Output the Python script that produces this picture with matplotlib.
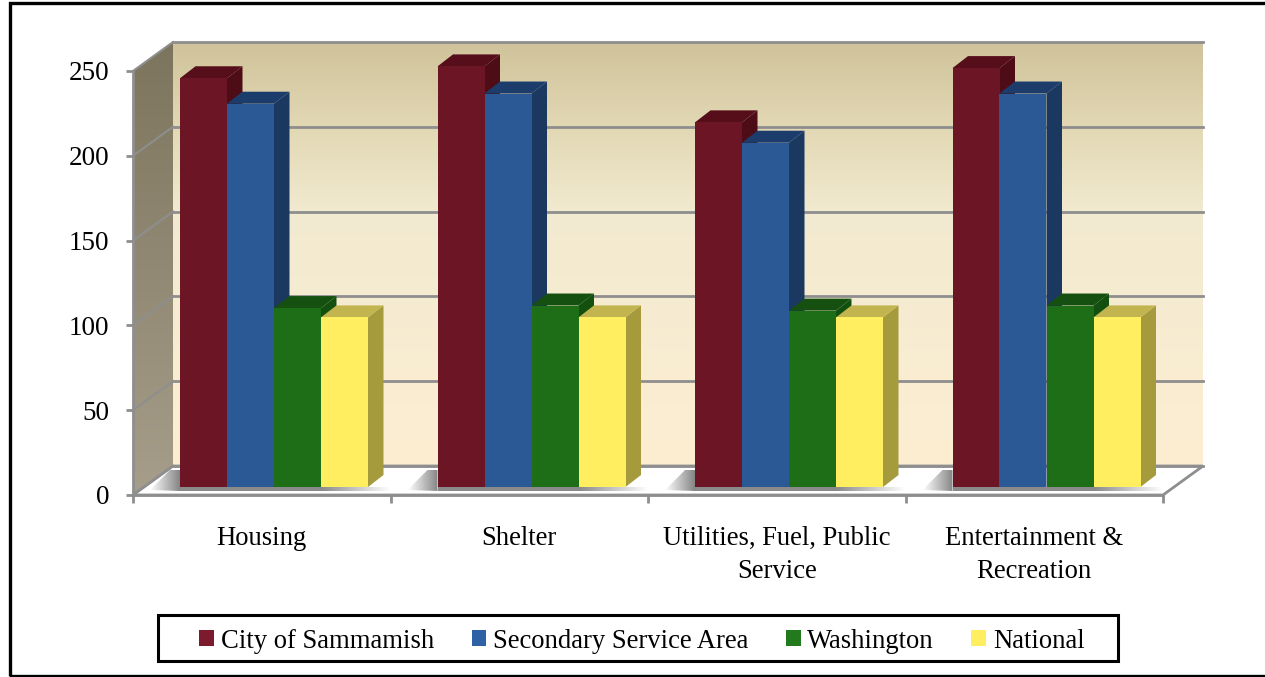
import numpy as np
import matplotlib
matplotlib.use('Agg')
import matplotlib.pyplot as plt
from matplotlib.patches import Polygon, Rectangle

plt.rcParams['font.family'] = ['Liberation Serif', 'DejaVu Serif']

categories = ['Housing', 'Shelter', 'Utilities, Fuel, Public\nService', 'Entertainment &\nRecreation']
series = ['City of Sammamish', 'Secondary Service Area', 'Washington', 'National']
sammamish = [241, 248, 215, 247]
secondary = [226, 232, 203, 232]
washington = [105.5, 107, 104, 107]
national = [100, 100, 100, 100]
values = [sammamish, secondary, washington, national]
yticks = [0, 50, 100, 150, 200, 250]

front = ['#6b1525', '#2a5995', '#1d6e17', '#ffee60']
side = ['#4d0c16', '#1a3860', '#13500f', '#a59a3c']
top = ['#560e1a', '#1c3d6c', '#155010', '#c2b44e']
legend_colors = ['#7c1a2e', '#2f62a4', '#237a1c', '#ffee60']
grey = '#8e8e8e'

W, H = 1265, 677
fig = plt.figure(figsize=(W / 100, H / 100), dpi=100)
ax = fig.add_axes([133 / W, (H - 495) / H, 1030 / W, 424 / H])
ax.set_xlim(0, 4)
ax.set_ylim(0, 250)

# pixels to data units
px = 4 / 1030
py = 250 / 424
wall_dx, wall_dy = 40 * px, 29 * py
bar_w = 47 * px
bar_dx, bar_dy = 15.5 * px, 12 * py
base = 8 * py
gap = 47 * px


def gradient(poly, stops, colors, extent, zorder, horizontal=False):
    t = np.linspace(0, 1, 200)
    rgb = np.array([matplotlib.colors.to_rgb(c) for c in colors])
    img = np.stack([np.interp(t, stops, rgb[:, k]) for k in range(3)], axis=1)
    img = img[:, None, :]
    if horizontal:
        img = img.transpose(1, 0, 2)
    im = ax.imshow(img, extent=extent, origin='upper', aspect='auto',
                   zorder=zorder, interpolation='bilinear')
    patch = Polygon(poly, closed=True, fc='none', ec='none', zorder=zorder)
    ax.add_patch(patch)
    # images get cut at the axes box otherwise
    im.set_clip_box(fig.bbox)
    im.set_clip_path(patch)
    return im


# back wall and side wall
gradient([(wall_dx, wall_dy), (4 + wall_dx, wall_dy), (4 + wall_dx, 250 + wall_dy), (wall_dx, 250 + wall_dy)],
         [0, 0.2, 0.4, 1], ['#d0c39b', '#e2d8b4', '#f2ead0', '#fdeed2'],
         (wall_dx, 4 + wall_dx, wall_dy, 250 + wall_dy), 0)
gradient([(0, 0), (wall_dx, wall_dy), (wall_dx, 250 + wall_dy), (0, 250)],
         [0, 1], ['#7d745d', '#a69e8a'], (0, wall_dx, 0, 250 + wall_dy), 0)

# floor
ax.add_patch(Polygon([(0, 0), (wall_dx, wall_dy), (4 + wall_dx, wall_dy), (4, 0)], closed=True,
                     fc='white', ec=grey, lw=2, zorder=1, clip_on=False))

# gridlines, back wall plus side wall
for v in yticks:
    ax.plot([wall_dx, 4 + wall_dx], [v + wall_dy, v + wall_dy], color=grey, lw=2, zorder=1.5, clip_on=False)
    ax.plot([0, wall_dx], [v, v + wall_dy], color=grey, lw=1.5, zorder=1.5, clip_on=False)

# shadow on the floor
for i in range(len(categories)):
    x0 = i + gap
    gradient([(x0 - 30 * px, base - 3 * py), (x0 - 10 * px, base + 17 * py), (x0, base + 17 * py), (x0, base - 4 * py)],
             [0, 1], ['#ffffff', '#858585'], (x0 - 30 * px, x0, base - 4 * py, base + 17 * py), 2, horizontal=True)
    gradient([(x0 + 3 * bar_w, base), (x0 + 4 * bar_w + 22 * px, base), (x0 + 4 * bar_w + 22 * px, base - 4 * py), (x0 + 3 * bar_w, base - 4 * py)],
             [0, 1], ['#8a8a8a', '#ffffff'], (x0 + 3 * bar_w, x0 + 4 * bar_w + 22 * px, base - 4 * py, base), 2, horizontal=True)
    ax.add_patch(Rectangle((x0, base - 4 * py), 3 * bar_w, 4 * py, fc='#8a8a8a', ec='none', zorder=2))

# bars, front face from ax.bar, depth faces from the same values
handles = []
pos = np.arange(len(categories)) + gap + bar_w / 2
for s, vals in enumerate(values):
    z = 3 + s
    x = pos + s * bar_w
    h = ax.bar(x, vals, width=bar_w, bottom=base, color=front[s], zorder=z + 0.2, label=series[s], clip_on=False)
    handles.append(h)
    for xi, v in zip(x, vals):
        l, r = xi - bar_w / 2, xi + bar_w / 2
        t = base + v
        ax.add_patch(Polygon([(r, base), (r + bar_dx, base + bar_dy), (r + bar_dx, t + bar_dy), (r, t)],
                             closed=True, fc=side[s], ec='none', zorder=z, clip_on=False))
        ax.add_patch(Polygon([(l, t), (l + bar_dx, t + bar_dy), (r + bar_dx, t + bar_dy), (r, t)],
                             closed=True, fc=top[s], ec='none', zorder=z, clip_on=False))

# axes
ax.set_xlim(0, 4)
ax.set_ylim(0, 250)
for name in ['top', 'right']:
    ax.spines[name].set_visible(False)
for name in ['left', 'bottom']:
    ax.spines[name].set_color(grey)
    ax.spines[name].set_linewidth(2)
    ax.spines[name].set_zorder(2)
ax.set_yticks(yticks)
ax.set_xticks([0, 1, 2, 3, 4])
ax.set_xticklabels([])
ax.set_xticks([0.5, 1.5, 2.5, 3.5], minor=True)
ax.set_xticklabels(categories, minor=True, fontsize=19.2, linespacing=1.42)
ax.tick_params(axis='x', which='major', length=6, width=2, color=grey)
ax.tick_params(axis='x', which='minor', length=0, pad=22.5)
ax.tick_params(axis='y', length=5, width=2, color=grey, labelsize=19.5, pad=12)

# legend box and outer frame
fig.add_artist(Rectangle((158 / W, (H - 661) / H), 960 / W, 46 / H, transform=fig.transFigure,
                         fc='white', ec='black', lw=2.2, zorder=5))
leg = fig.legend(handles=handles, loc='center', bbox_to_anchor=(642 / W, (H - 641) / H), ncols=4, frameon=False,
                 fontsize=19.2, handlelength=0.56, handleheight=0.56, handletextpad=0.25, columnspacing=1.4)
leg.set_zorder(6)
for patch, c in zip(leg.legend_handles, legend_colors):
    patch.set_facecolor(c)
fig.add_artist(Rectangle((9.5 / W, 1.5 / H), (W + 10) / W, (H - 4) / H, transform=fig.transFigure,
                         fc='none', ec='black', lw=2.4, zorder=7, clip_on=True))

fig.savefig('out.png', dpi=100)
